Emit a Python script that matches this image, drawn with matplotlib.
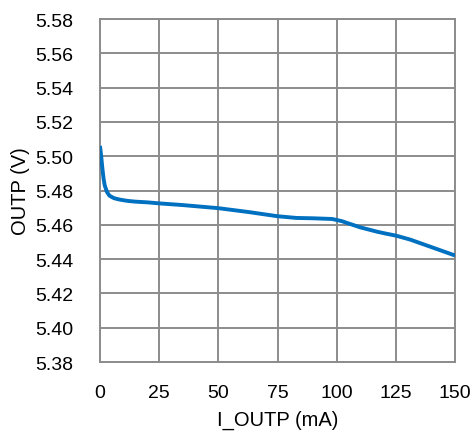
import matplotlib
matplotlib.use("Agg")
import matplotlib.pyplot as plt

# Data
current_ma = [0, 0.5, 1, 1.5, 2, 3, 4, 5, 6, 8, 10, 12, 15, 20, 25, 35, 50, 63, 75, 83, 90, 98, 102, 105, 110, 117, 121, 125, 131, 140, 150]
outp_v = [5.506, 5.500, 5.493, 5.487, 5.483, 5.479, 5.477, 5.4762, 5.4755, 5.4748, 5.4743, 5.4739, 5.4735, 5.4731, 5.4725, 5.4715, 5.4697, 5.4674, 5.4650, 5.4640, 5.4638, 5.4634, 5.4622, 5.4608, 5.4585, 5.4560, 5.4548, 5.4537, 5.4514, 5.4470, 5.4421]
x_ticks = [0, 25, 50, 75, 100, 125, 150]
y_ticks = [5.38, 5.40, 5.42, 5.44, 5.46, 5.48, 5.50, 5.52, 5.54, 5.56, 5.58]

plt.rcParams['font.family'] = ['Liberation Sans', 'DejaVu Sans']

fig = plt.figure(figsize=(4.75, 4.35), dpi=100)
ax = fig.add_axes([0.2105, 0.1655, 0.7475, 0.7885])

grid_color = '#8c8c8c'
ax.plot(current_ma, outp_v, color='#0070C0', linewidth=2.8, solid_capstyle='butt', zorder=3)

ax.set_xlim(0, 150)
ax.set_ylim(5.38, 5.58)
ax.set_xticks(x_ticks)
ax.set_yticks(y_ticks)
ax.set_xticklabels([str(v) for v in x_ticks])
ax.set_yticklabels([f"{v:.2f}" for v in y_ticks])
ax.grid(True, color=grid_color, linewidth=1.4)
for s in ax.spines.values():
    s.set_color(grid_color)
    s.set_linewidth(1.4)
ax.tick_params(length=0, labelsize=14, colors='black')
ax.tick_params(axis='y', pad=19)
ax.tick_params(axis='x', pad=16)

ax.set_xlabel('I_OUTP (mA)', fontsize=14.5, labelpad=6)
ax.set_ylabel('OUTP (V)', fontsize=14.5, labelpad=4)

fig.savefig('out.png', dpi=100)
